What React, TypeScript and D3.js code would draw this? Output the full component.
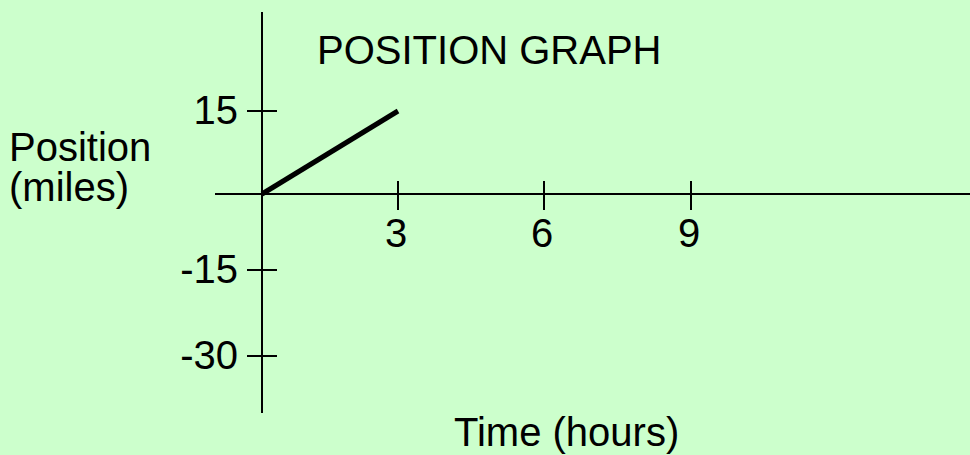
import React from "react";
import * as d3 from "d3";

const timeTicks = [3, 6, 9];
const positionTicks = [15, -15, -30];
const seriesTime = [0, 3];
const seriesPosition = [0, 15];
const title = "POSITION GRAPH";
const xLabel = "Time (hours)";
const yLabelLines = ["Position", "(miles)"];

const W = 970;
const H = 455;
const FONT = "'Liberation Sans', Arial, sans-serif";
const FS = 40;

export default function App() {
  // piecewise scales: the original's tick spacing is slightly uneven
  const x = d3.scaleLinear().domain([0, 3, 6, 9]).range([262, 398, 544, 691]);
  const y = d3.scaleLinear().domain([-30, -15, 0, 15]).range([356, 270, 194, 111]);

  const pts: [number, number][] = seriesTime.map((t, i) => [t, seriesPosition[i]]);
  const line = d3
    .line<[number, number]>()
    .x((d) => x(d[0]))
    .y((d) => y(d[1]));

  const x0 = x(0);
  const y0 = y(0);

  return (
    <svg
      width={W}
      height={H}
      style={{ position: "absolute", left: 0, top: 0, display: "block" }}
      fontFamily={FONT}
    >
      <rect x={0} y={0} width={W} height={H} fill="#CCFFCC" />
      {/* axes */}
      <line x1={x0} x2={x0} y1={12} y2={413} stroke="#000" strokeWidth={2} />
      <line x1={215} x2={W} y1={y0} y2={y0} stroke="#000" strokeWidth={2} />
      {/* y ticks */}
      {positionTicks.map((v) => (
        <g key={"y" + v}>
          <line x1={x0 - 15} x2={x0 + 15} y1={y(v)} y2={y(v)} stroke="#000" strokeWidth={2} />
          <text x={238} y={y(v) + 13} textAnchor="end" fontSize={FS} fill="#000">
            {v}
          </text>
        </g>
      ))}
      {/* x ticks */}
      {timeTicks.map((v) => (
        <g key={"x" + v}>
          <line x1={x(v)} x2={x(v)} y1={y0 - 13} y2={y0 + 16} stroke="#000" strokeWidth={2} />
          <text x={x(v) - 2} y={247} textAnchor="middle" fontSize={FS} fill="#000">
            {v}
          </text>
        </g>
      ))}
      {/* series */}
      <path d={line(pts) || ""} fill="none" stroke="#000" strokeWidth={5} />
      {/* labels */}
      <text x={317} y={64} fontSize={FS} fill="#000">
        {title}
      </text>
      <text x={454} y={446} fontSize={FS} fill="#000">
        {xLabel}
      </text>
      {yLabelLines.map((s, i) => (
        <text key={s} x={9} y={161 + i * 40} fontSize={FS} fill="#000">
          {s}
        </text>
      ))}
    </svg>
  );
}
